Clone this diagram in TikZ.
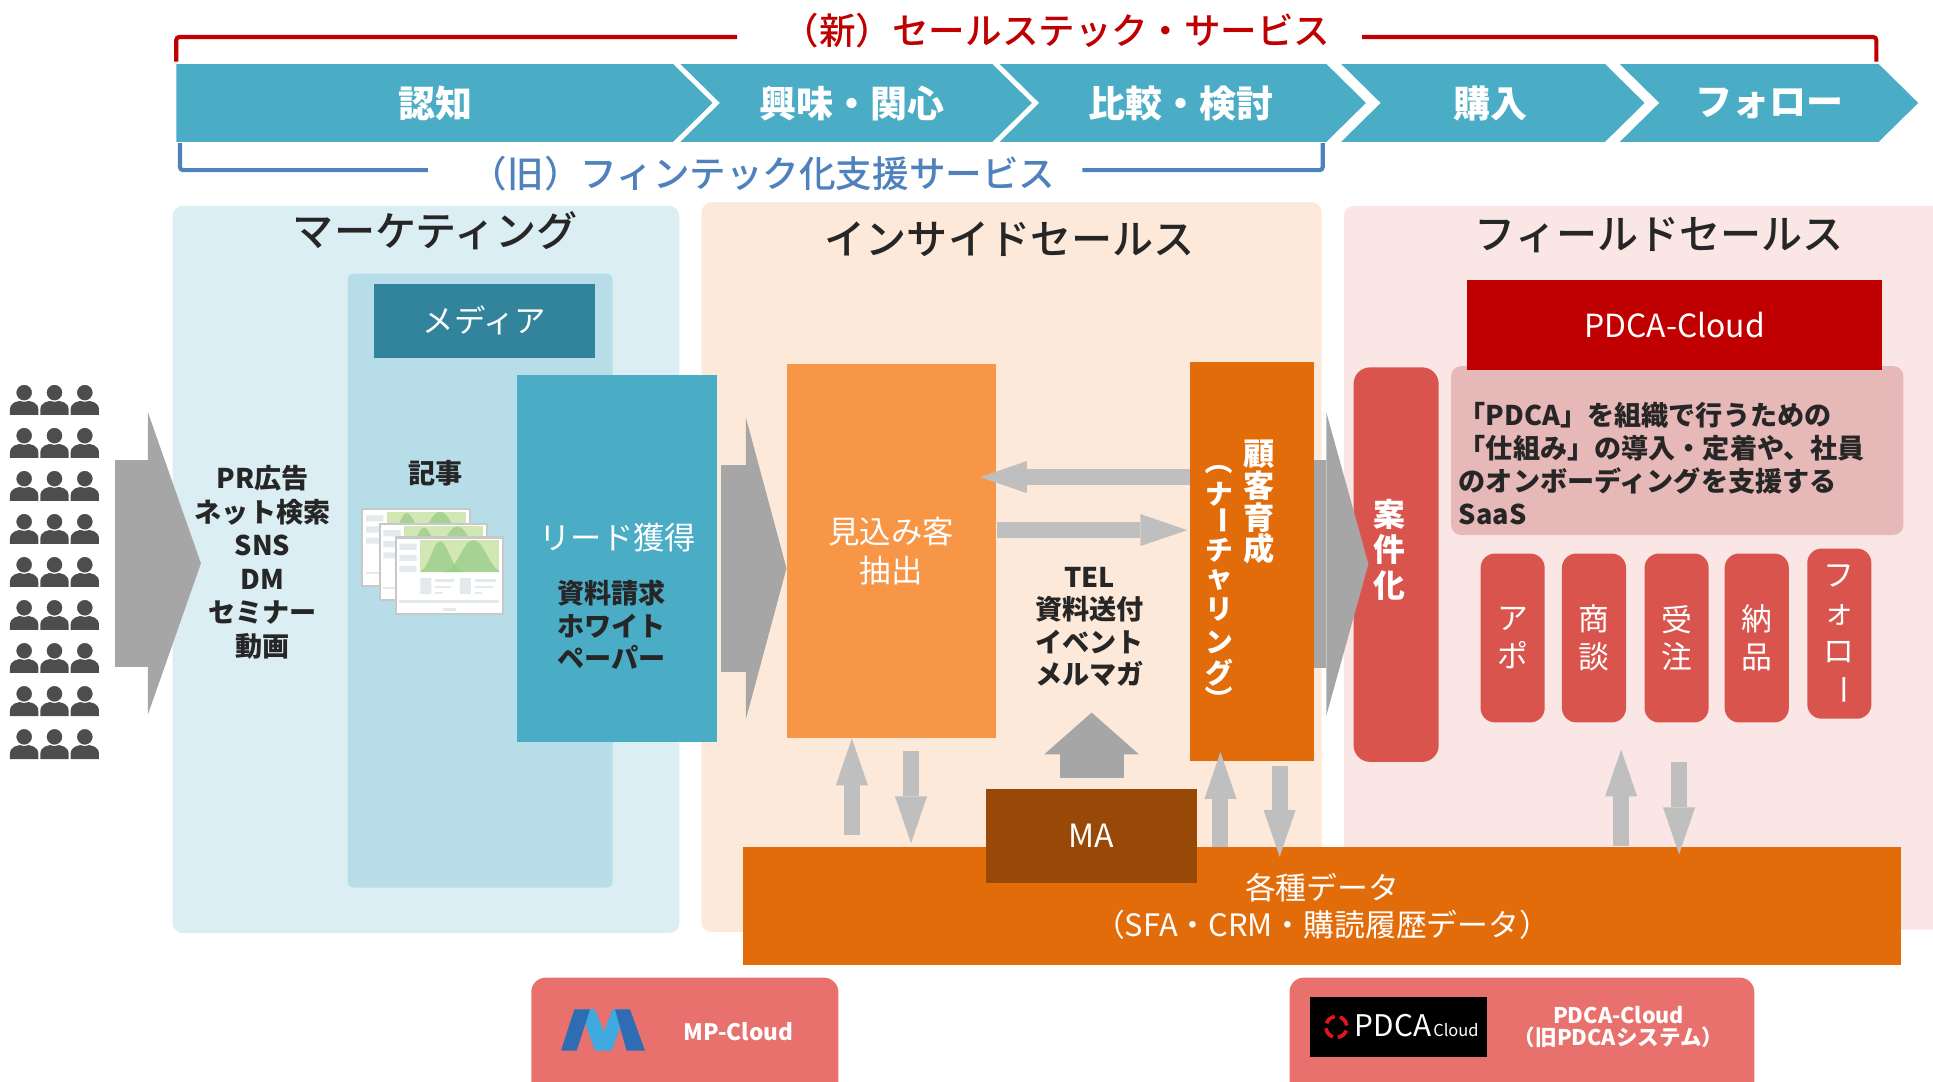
\documentclass[tikz,border=0pt]{standalone}
\usepackage{fontspec}
\setmainfont{Noto Sans CJK JP}
\IfFontExistsTF{Noto Sans CJK JP Medium}
  {\newfontfamily\headfont{Noto Sans CJK JP Medium}}
  {\newfontfamily\headfont{Noto Sans CJK JP}}
\usetikzlibrary{arrows.meta}

\definecolor{chev}{HTML}{4BACC6}
\definecolor{newred}{HTML}{C00000}
\definecolor{oldblue}{HTML}{4F81BD}
\definecolor{mkbg}{HTML}{DAEEF3}
\definecolor{mediacolbg}{HTML}{B7DDE8}
\definecolor{mediabg}{HTML}{31849B}
\definecolor{isbg}{HTML}{FDE9D9}
\definecolor{fsbg}{HTML}{FAE6E4}
\definecolor{orlight}{HTML}{F79646}
\definecolor{ordark}{HTML}{E36C0A}
\definecolor{orbrown}{HTML}{984807}
\definecolor{fsred}{HTML}{D9544D}
\definecolor{descbg}{HTML}{E6B8B7}
\definecolor{blockgray}{HTML}{A6A6A6}
\definecolor{flowgray}{HTML}{BFBFBF}
\definecolor{ink}{HTML}{262626}
\definecolor{crowdgray}{HTML}{4D4D4D}
\definecolor{card}{HTML}{E8716D}
\definecolor{mpdark}{HTML}{2E6DB4}
\definecolor{mplight}{HTML}{3FA9E0}
\definecolor{pagegray}{HTML}{C8C8C8}
\definecolor{sidegray}{HTML}{E4EAEC}
\definecolor{leaf}{HTML}{D2E8B4}
\definecolor{hill}{HTML}{98CD88}
\definecolor{logored}{HTML}{E0161E}

% rectangle node given by its corners: style, name, x1, y1, x2, y2, text
\newcommand\boxat[7]{\node[boxbase,#1,minimum width={(#5-#3)*0.6pt},minimum height={(#6-#4)*0.6pt}] (#2) at (#3,#4) {#7};}

% small web page thumbnail with its top left corner at (#1,#2)
\newcommand\webpage[2]{%
\begin{scope}[shift={(#1,#2)}]
  \filldraw[fill=white, draw=pagegray, line width=1pt] (0,0) rectangle (87,62);
  \fill[sidegray] (3,5) rectangle (17,10) (3,14) rectangle (17,19) (3,23) rectangle (17,28);
  \fill[leaf] (20,2) rectangle (84,28);
  \begin{scope}
    \clip (20,2) rectangle (84,28);
    \fill[hill, opacity=.75] (18,28) .. controls (27,28) and (30,3) .. (36,3) .. controls (42,3) and (46,28) .. (55,28) -- cycle;
    \fill[hill, opacity=.75] (38,28) .. controls (50,28) and (54,2) .. (63,2) .. controls (72,2) and (76,28) .. (88,28) -- cycle;
  \end{scope}
  \fill[sidegray] (20,33) rectangle (29,46) (52,33) rectangle (61,46);
  \draw[sidegray, line width=1.2pt] (32,35) -- (47,35) (32,40) -- (45,40) (32,45) -- (38,45)
    (64,35) -- (81,35) (64,40) -- (79,40) (64,45) -- (70,45) (3,52) -- (84,52);
  \fill[sidegray] (38,57) rectangle (49,60);
\end{scope}}

\begin{document}
\begin{tikzpicture}[x=0.6pt,y=-0.6pt,
  boxbase/.style={anchor=north west, inner sep=0pt, outer sep=0pt},
  title/.style={font=\headfont\fontsize{20}{24}\selectfont, text=ink},
  chevlabel/.style={font=\bfseries\fontsize{18}{20}\selectfont, text=white},
  bracketlabel/.style={font=\headfont\fontsize{17.8}{20}\selectfont},
  boldtxt/.style={font=\bfseries\fontsize{13.2}{16.2}\selectfont, text=ink, align=center},
  whitetxt/.style={font=\fontsize{15.2}{18}\selectfont, text=white, align=center},
  vchar/.style={font=\bfseries\fontsize{13.5}{14}\selectfont, text=white, inner sep=0pt},
  flowarrow/.style={draw=flowgray, line width=7.8pt, -{Triangle[length=22.8pt,width=15.6pt,line width=0pt]}},
  blockarrow/.style={draw=blockgray, line width=100.8pt, -{Triangle[length=#1,width=147pt,line width=0pt]}},
  bracket/.style={line width=2pt, rounded corners=1.5pt}
]
\useasboundingbox (0,0) rectangle (1568,877);

% ---------- stage panels ----------
\boxat{fill=mkbg, rounded corners=5pt}{mkpanel}{140}{167}{551}{757}{}
\boxat{fill=isbg, rounded corners=5pt}{ispanel}{569}{164}{1072}{756}{}
\boxat{fill=fsbg, rounded corners=5pt}{fspanel}{1090}{167}{1610}{754}{}
\node[title] (mktitle) at (353,187) {マーケティング};
\node[title] (istitle) at (819,194) {インサイドセールス};
\node[title] (fstitle) at (1346,191) {フィールドセールス};

% ---------- service brackets ----------
\draw[bracket, newred] (143,50) -- (143,30) -- (598,30);
\draw[bracket, newred] (1105,30) -- (1522,30) -- (1522,50);
\node[bracketlabel, text=newred] (newservice) at (857,25) {（新）セールステック・サービス};
\draw[bracket, oldblue] (146,116) -- (146,138) -- (347,138);
\draw[bracket, oldblue] (878,138) -- (1073,138) -- (1073,116);
\node[bracketlabel, text=oldblue] (oldservice) at (619,141) {（旧）フィンテック化支援サービス};

% ---------- buying process chevrons ----------
\fill[chev] (143,52) -- (546,52) -- (578,83.5) -- (546,115) -- (143,115) -- cycle;
\foreach \L/\R in {552/805, 811/1076, 1088/1302, 1314/1524}
  \fill[chev] (\L,52) -- (\R,52) -- (\R+32,83.5) -- (\R,115) -- (\L,115) -- (\L+32,83.5) -- cycle;
\node[chevlabel] (stage1) at (353,84) {認知};
\node[chevlabel] (stage2) at (691,84) {興味・関心};
\node[chevlabel] (stage3) at (958,84) {比較・検討};
\node[chevlabel] (stage4) at (1209,84) {購入};
\node[chevlabel] (stage5) at (1435,84) {フォロー};

% ---------- marketing ----------
\boxat{fill=mediacolbg, rounded corners=3pt}{mediacolumn}{282}{222}{497}{720}{}
\boxat{fill=mediabg, text=white, font=\fontsize{15.3}{18}\selectfont}{media}{303}{230}{483}{290}{メディア}
\node[boldtxt] (kiji) at (353,384) {記事};
\webpage{294}{413}
\webpage{308}{425}
\webpage{321}{436}

\boxat{fill=chev}{lead}{419}{304}{582}{602}{}
\node[whitetxt] (leadtitle) at (501,436) {リード獲得};
\node[boldtxt, font=\bfseries\fontsize{13.2}{15.9}\selectfont] (leadlist) at (496,507) {資料請求\\ホワイト\\ペーパー};

% crowd of prospects
\foreach \c in {0,1,2}{
  \foreach \r in {0,...,8}{
    \pgfmathsetmacro\cx{19.6+24.6*\c}
    \pgfmathsetmacro\cy{318.5+34.9*\r}
    \fill[crowdgray] (\cx-11.5,\cy+18) -- (\cx-11.5,\cy+14) .. controls (\cx-11.5,\cy+8) and (\cx-6,\cy+6.5) .. (\cx,\cy+6.5)
      .. controls (\cx+6,\cy+6.5) and (\cx+11.5,\cy+8) .. (\cx+11.5,\cy+14) -- (\cx+11.5,\cy+18) -- cycle;
    \filldraw[fill=crowdgray, draw=white, line width=0.6pt] (\cx,\cy) circle[radius=6.9];
  }
}
\coordinate (crowd) at (93,457);
\coordinate (crowdtip) at (163,457);
\draw[blockarrow=25.8pt] (crowd) -- (crowdtip);
\node[boldtxt, font=\bfseries\fontsize{13.2}{16.3}\selectfont] (channels) at (213,456) {PR広告\\ネット検索\\SNS\\DM\\セミナー\\動画};

% ---------- inside sales ----------
\boxat{fill=orlight, text=white, align=center, font=\fontsize{15.3}{19.2}\selectfont}{prospect}{638}{295}{808}{599}{見込み客\\抽出}
\boxat{fill=ordark}{nurture}{965}{294}{1066}{617}{}
\node[font=\bfseries\fontsize{15.2}{15.4}\selectfont, text=white, align=center] (nurturemain) at (1021,407.5) {顧\\客\\育\\成};
\foreach \ch/\yy/\rot [count=\k] in {（/374/-90, ナ/401/0, ー/422/-90, チ/446.3/0, ャ/470.8/0, リ/494.8/0, ン/521.3/0, グ/545.3/0, ）/567.6/-90}
  \node[vchar, rotate=\rot] (nurturesub\k) at (989,\yy) {\ch};

\boxat{fill=ordark, text=white, align=center, font=\fontsize{15}{18}\selectfont}{data}{603}{687}{1542}{783}{各種データ\\（SFA・CRM・購読履歴データ）}
\boxat{fill=orbrown, text=white, font=\fontsize{15.6}{18}\selectfont}{ma}{800}{640}{971}{716}{MA}
\node[boldtxt, font=\bfseries\fontsize{13.2}{15.8}\selectfont] (touch) at (884,508.5) {TEL\\資料送付\\イベント\\メルマガ};

\draw[flowarrow, shorten >=-7.8pt] (nurture.west |- 0,387) -- (prospect.east |- 0,387);
\draw[flowarrow, shorten <=0.6pt, shorten >=1.2pt] (prospect.east |- 0,430) -- (nurture.west |- 0,430);
\draw[flowarrow, shorten <=6pt] (data.north -| 691,0) -- (prospect.south -| 691,0);
\draw[flowarrow, shorten <=6pt, shorten >=1.8pt] (prospect.south -| 739,0) -- (data.north -| 739,0);
\draw[flowarrow, shorten >=-4.2pt] (data.north -| 990,0) -- (nurture.south -| 990,0);
\draw[flowarrow, shorten <=2.4pt, shorten >=-4.8pt] (nurture.south -| 1038,0) -- (data.north -| 1038,0);
\draw[draw=blockgray, line width=31.2pt, -{Triangle[length=20.4pt,width=46.2pt,line width=0pt]}]
  ([yshift=5.4pt]ma.north) -- ([yshift=37.2pt]ma.north);

\draw[blockarrow=19.8pt, shorten <=1.8pt] (lead.east |- 0,461) -- (prospect.west |- 0,461);

% ---------- field sales ----------
\boxat{fill=descbg, rounded corners=5pt}{desc}{1177}{297}{1544}{434}{}
\boxat{fill=newred, text=white, font=\fontsize{15.5}{18}\selectfont}{pdca}{1190}{227}{1527}{300}{PDCA-Cloud}
\node[anchor=west, align=left, inner sep=0pt, font=\bfseries\fontsize{13.2}{16.2}\selectfont, text=ink] (desctext) at (1183,376)
  {「PDCA」を組織で行うための\\「仕組み」の導入・定着や、社員\\のオンボーディングを支援する\\SaaS};

\boxat{fill=fsred, rounded corners=8pt}{anken}{1098}{298}{1167}{618}{}
\node[font=\bfseries\fontsize{15.5}{17.1}\selectfont, text=white, align=center] (ankentext) at (1127,446) {案\\件\\化};

\boxat{fill=fsred, rounded corners=7pt}{apo}{1201}{449}{1253}{586}{}
\boxat{fill=fsred, rounded corners=7pt}{shodan}{1267}{449}{1319}{586}{}
\boxat{fill=fsred, rounded corners=7pt}{juchu}{1334}{449}{1386}{586}{}
\boxat{fill=fsred, rounded corners=7pt}{nohin}{1399}{449}{1451}{586}{}
\boxat{fill=fsred, rounded corners=7pt}{follow}{1466}{445}{1518}{583}{}
\node[whitetxt, font=\fontsize{15}{18.3}\selectfont] (apotext) at (apo.center) {ア\\ポ};
\node[whitetxt, font=\fontsize{15}{18.3}\selectfont] (shodantext) at (shodan.center) {商\\談};
\node[whitetxt, font=\fontsize{15}{18.3}\selectfont] (juchutext) at (juchu.center) {受\\注};
\node[whitetxt, font=\fontsize{15}{18.3}\selectfont] (nohintext) at (nohin.center) {納\\品};
\foreach \ch/\yy/\rot [count=\k] in {フ/467/0, ォ/499/0, ロ/529/0, ー/560/-90}
  \node[inner sep=0pt, font=\fontsize{15}{18}\selectfont, text=white, rotate=\rot] (followtext\k) at (1492,\yy) {\ch};

\draw[blockarrow=20.4pt, shorten >=-7.2pt] (nurture.east |- 0,457.5) -- (anken.west |- 0,457.5);
\draw[flowarrow, shorten <=0.6pt, shorten >=13.2pt] (data.north -| 1315,0) -- (shodan.south -| 1315,0);
\draw[flowarrow, shorten <=19.2pt, shorten >=-3.6pt] (juchu.south -| 1362,0) -- (data.north -| 1362,0);

% ---------- product cards ----------
\boxat{fill=card, rounded corners=7pt}{mpcard}{431}{793}{680}{905}{}
\fill[mplight] (470.5,818.7) -- (482.6,818.7) -- (489.9,836.8) -- (496.8,818.7) -- (508.3,818.7) -- (496.2,852.3) -- (482.6,852.3) -- cycle;
\fill[mpdark] (455.1,852.3) -- (465.9,818.7) -- (478.6,818.7) -- (467.8,852.3) -- cycle;
\fill[mpdark] (498.9,818.7) -- (511,818.7) -- (523.2,852.3) -- (508.3,852.3) -- cycle;
\node[font=\bfseries\fontsize{11}{13}\selectfont, text=white] (mpname) at (599,837) {MP-Cloud};

\boxat{fill=card, rounded corners=7pt}{pdcacard}{1046}{793}{1423}{905}{}
\boxat{fill=black}{pdcalogo}{1063}{809}{1206}{857}{}
\foreach \s in {20,110,200,290}
  \draw[logored, line width=1.8pt] ([shift={(\s:8.5)}]1084,833) arc[start angle=\s, end angle=\s+62, radius=8.5];
\node[anchor=base, inner sep=0pt, font=\fontsize{14.5}{16}\selectfont, text=white] (pdcaword) at (1130,841) {PDCA};
\node[anchor=base, inner sep=0pt, font=\fontsize{8}{9}\selectfont, text=white] (cloudword) at (1181,841) {Cloud};
\node[font=\bfseries\fontsize{10.5}{10.8}\selectfont, text=white, align=center] (pdcaname) at (1313,833) {PDCA-Cloud\\（旧PDCAシステム）};

\end{tikzpicture}
\end{document}
